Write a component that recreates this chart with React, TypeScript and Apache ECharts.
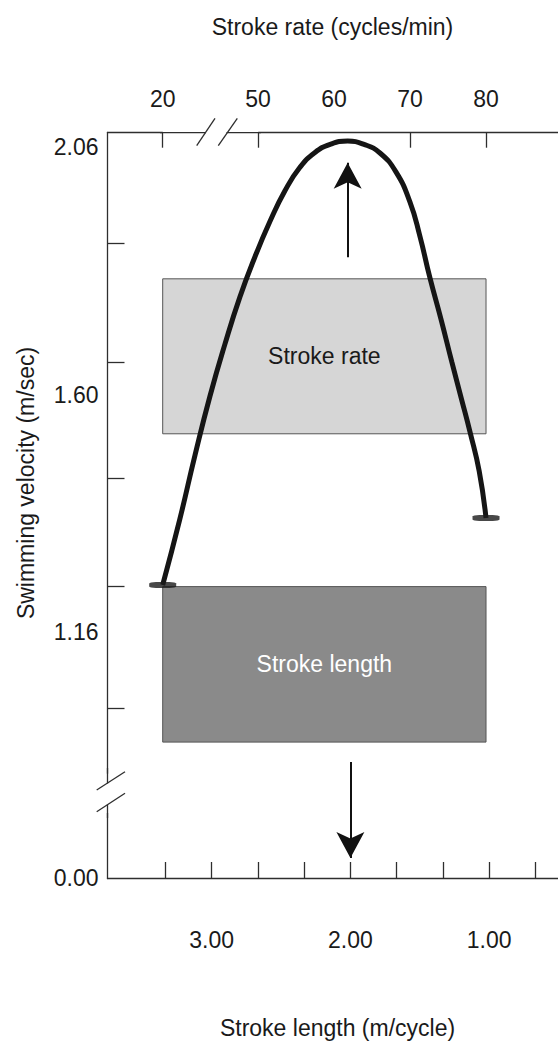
import React, { useEffect, useRef } from "react";
import * as echarts from "echarts";

// Top axis: stroke rate (cycles/min)
const rateLabels = [20, 50, 60, 70, 80];
const rateTicks = [20, 50, 70, 80];
// Bottom axis: stroke length (m/cycle), reversed
const lengthLabels = [3, 2, 1];
const lengthTicks = [3.333, 3, 2.667, 2.333, 2, 1.667, 1.333, 1, 0.667];
// Left axis: swimming velocity (m/sec)
const velocityLabels = [0, 1.16, 1.6, 2.06];
const velocityTicks = [1.88, 1.66, 1.445, 1.245, 1.02];

// The velocity curve (rate, velocity)
const curveRate = [20, 25.4, 30.2, 34.9, 39.6, 44.3, 49.0, 51.6, 53.55, 55.5, 57.5, 59.5, 61.8,
  63.95, 66.05, 68.15, 70.0, 71.3, 72.6, 74.1, 75.5, 76.8, 77.9, 79.1, 80.0];
const curveVelocity = [1.248, 1.37, 1.489, 1.598, 1.694, 1.781, 1.855, 1.922, 1.978, 2.021, 2.049, 2.064, 2.07,
  2.064, 2.048, 2.013, 1.957, 1.894, 1.818, 1.739, 1.661, 1.591, 1.531, 1.459, 1.372];
const curveEndRates = [20, 80];
const curveEndVelocities = [1.248, 1.372];

// Shaded boxes
const boxNames = ["Stroke rate", "Stroke length"];
const boxRate = [20, 80];
const boxTop = [1.815, 1.245];
const boxBottom = [1.528, 0.957];
const boxFill = ["#d6d6d6", "#8a8a8a"];
const boxText = ["#1a1a1a", "#ffffff"];

// Arrows
const upArrowRate = 61.8;
const upArrowVelocity = [1.855, 2.03];
const downArrowLength = 2.0;
const downArrowVelocity = [0.92, 0.037];

const FONT = "'Liberation Sans', Arial, Helvetica, sans-serif";
const INK = "#1a1a1a";
const AXIS = "#2e2e2e";

const fmt2 = (v: number) => v.toFixed(2);

const labelStyle = { fontSize: 23, fontFamily: FONT, color: INK };

function buildOption(): any {
  const seg = (x1: number, y1: number, x2: number, y2: number, z = 100) => ({
    type: "line",
    z,
    shape: { x1, y1, x2, y2 },
    style: { stroke: AXIS, lineWidth: 1.3 },
    silent: true,
  });
  const text = (t: string, x: number, y: number, rotation = 0) => ({
    type: "text",
    z: 100,
    x,
    y,
    rotation,
    silent: true,
    style: {
      text: t,
      fontSize: 23,
      fontFamily: FONT,
      fill: INK,
      textAlign: "center",
      textVerticalAlign: "middle",
      align: "center",
      verticalAlign: "middle",
    },
  });

  return {
    animation: false,
    backgroundColor: "#ffffff",
    grid: {
      left: 107.5,
      right: -20,
      top: 132.7,
      bottom: 163,
      containLabel: false,
      outerBoundsMode: "none",
      show: false,
    },
    xAxis: [
      {
        type: "value",
        position: "top",
        min: 12.74,
        max: 92.1,
        breaks: [{ start: 20, end: 50, gap: "20.25%" }],
        breakArea: { show: false },
        axisLine: { show: true, onZero: false, lineStyle: { color: AXIS, width: 1.3 } },
        axisTick: { show: true, inside: true, length: 15, customValues: rateTicks, lineStyle: { color: AXIS, width: 1.3 } },
        axisLabel: { ...labelStyle, margin: 22, customValues: rateLabels, formatter: (v: number) => String(Math.round(v)) },
        splitLine: { show: false },
      },
      {
        type: "value",
        position: "bottom",
        inverse: true,
        min: 0.359,
        max: 3.7513,
        axisLine: { show: true, onZero: false, lineStyle: { color: AXIS, width: 1.3 } },
        axisTick: { show: true, inside: true, length: 16, customValues: lengthTicks, lineStyle: { color: AXIS, width: 1.3 } },
        axisLabel: { ...labelStyle, margin: 50, customValues: lengthLabels, formatter: fmt2 },
        splitLine: { show: false },
      },
    ],
    yAxis: {
      type: "value",
      min: 0,
      max: 2.0856,
      breaks: [{ start: 0.12, end: 0.9, gap: "5.41%" }],
      breakArea: { show: false },
      axisLine: { show: true, onZero: false, lineStyle: { color: AXIS, width: 1.3 } },
      axisTick: { show: true, inside: true, length: 17, customValues: velocityTicks, lineStyle: { color: AXIS, width: 1.3 } },
      axisLabel: { ...labelStyle, margin: 9, customValues: velocityLabels, formatter: fmt2 },
      splitLine: { show: false },
    },
    series: [
      {
        type: "line",
        name: "Swimming velocity",
        xAxisIndex: 0,
        yAxisIndex: 0,
        data: curveRate.map((r, i) => [r, curveVelocity[i]]),
        smooth: 0.5,
        symbol: "none",
        lineStyle: { color: "#151515", width: 5 },
        z: 5,
        markArea: {
          silent: true,
          label: { show: true, position: "inside", fontSize: 23, fontFamily: FONT },
          data: boxNames.map((name, i) => [
            {
              name,
              xAxis: boxRate[0],
              yAxis: boxTop[i],
              itemStyle: { color: boxFill[i], borderColor: "#555555", borderWidth: 1, opacity: 1 },
              label: { color: boxText[i] },
            },
            { xAxis: boxRate[1], yAxis: boxBottom[i] },
          ]),
        },
        markLine: {
          silent: true,
          animation: false,
          symbol: ["none", "arrow"],
          symbolSize: [21, 26],
          label: { show: false },
          lineStyle: { color: "#111111", width: 2, type: "solid" },
          emphasis: { disabled: true },
          data: [[
            { coord: [upArrowRate, upArrowVelocity[0]] },
            { coord: [upArrowRate, upArrowVelocity[1]] },
          ]],
        },
      },
      {
        type: "scatter",
        xAxisIndex: 0,
        yAxisIndex: 0,
        data: curveEndRates.map((r, i) => [r, curveEndVelocities[i]]),
        symbol: "roundRect",
        symbolSize: [27, 6],
        itemStyle: { color: "#1a1a1a" },
        z: 6,
        silent: true,
      },
      {
        type: "line",
        xAxisIndex: 1,
        yAxisIndex: 0,
        data: [[downArrowLength, downArrowVelocity[0]]],
        symbol: "none",
        lineStyle: { width: 0 },
        silent: true,
        markLine: {
          silent: true,
          animation: false,
          symbol: ["none", "arrow"],
          symbolSize: [21, 26],
          label: { show: false },
          lineStyle: { color: "#111111", width: 2, type: "solid" },
          emphasis: { disabled: true },
          data: [[
            { coord: [downArrowLength, downArrowVelocity[0]] },
            { coord: [downArrowLength, downArrowVelocity[1]] },
          ]],
        },
      },
    ],
    graphic: {
      elements: [
        // top axis line through the break, interrupted between the two slashes
        seg(160, 132.7, 206, 132.7, 98),
        seg(226.5, 132.7, 261, 132.7, 98),
        seg(196.7, 145.7, 215, 118.3),
        seg(218.3, 145.7, 237.3, 118.3),
        // left axis line through the break, interrupted between the two slashes
        seg(107.5, 768, 107.5, 783.5, 98),
        seg(107.5, 804.5, 107.5, 818, 98),
        seg(96.7, 790, 125, 771.7),
        seg(96.7, 811.7, 125, 793.3),
        text("Stroke rate (cycles/min)", 332.5, 27),
        text("Stroke length (m/cycle)", 337.5, 1028),
        text("Swimming velocity (m/sec)", 26, 483, Math.PI / 2),
      ],
    },
  };
}

export default function App() {
  const ref = useRef<HTMLDivElement>(null);
  useEffect(() => {
    if (!ref.current) return;
    const chart = echarts.init(ref.current, null, { renderer: "svg" });
    chart.setOption(buildOption());
    return () => chart.dispose();
  }, []);
  return (
    <div
      ref={ref}
      style={{ position: "absolute", left: 0, top: 0, width: 558, height: 1041, background: "#ffffff" }}
    />
  );
}
